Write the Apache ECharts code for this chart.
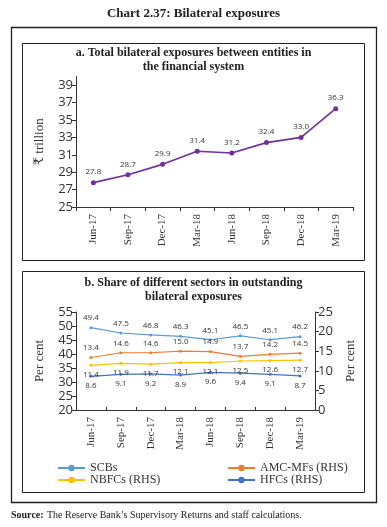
<!DOCTYPE html>
<html><head><meta charset="utf-8">
<script src="https://cdn.jsdelivr.net/npm/echarts@6/dist/echarts.min.js"></script>
<style>html,body{margin:0;padding:0;background:#fff;}#c{width:387px;height:527px;}</style>
</head><body><div id="c"></div>
<script>
var categories = ['Jun-17','Sep-17','Dec-17','Mar-18','Jun-18','Sep-18','Dec-18','Mar-19'];
var totalExposure = [27.8, 28.7, 29.9, 31.4, 31.2, 32.4, 33.0, 36.3];
var scbs = [49.4, 47.5, 46.8, 46.3, 45.1, 46.5, 45.1, 46.2];
var amcMfs = [13.4, 14.6, 14.6, 15.0, 14.9, 13.7, 14.2, 14.5];
var nbfcs = [11.4, 11.9, 11.7, 12.1, 12.1, 12.5, 12.6, 12.7];
var hfcs = [8.6, 9.1, 9.2, 8.9, 9.6, 9.4, 9.1, 8.7];

var serif = '"Liberation Serif", "DejaVu Serif", serif';
var sans = '"Open Sans", "Noto Sans", sans-serif';
var axisColor = '#333';
var chart = echarts.init(document.getElementById('c'));

function lbl(pos) {
  return {show: true, position: pos, fontSize: 8, color: '#333', fontFamily: sans, distance: 4,
    formatter: function(p){ return p.value.toFixed(1); }};
}
function titleText(y, txt, size) {
  return {type: 'text', x: 193.5, y: y, style: {text: txt, textAlign: 'center', textVerticalAlign: 'top',
    fontFamily: serif, fontWeight: 'bold', fontSize: size, fill: '#222', lineHeight: 14}};
}

chart.setOption({
  animation: false,
  backgroundColor: '#fff',
  graphic: [
    {type: 'rect', shape: {x: 11.5, y: 27.5, width: 365, height: 475}, style: {fill: 'none', stroke: '#222', lineWidth: 1.3}},
    {type: 'rect', shape: {x: 22.5, y: 43.5, width: 342, height: 217}, style: {fill: 'none', stroke: '#222', lineWidth: 1}},
    {type: 'rect', shape: {x: 22.5, y: 271.5, width: 342, height: 221}, style: {fill: 'none', stroke: '#222', lineWidth: 1}},
    titleText(7, 'Chart 2.37: Bilateral exposures', 13),
    titleText(46, 'a. Total bilateral exposures between entities in\nthe financial system', 12),
    titleText(276, 'b. Share of different sectors in outstanding\nbilateral exposures', 12),
    {type: 'text', x: 11, y: 509, style: {rich: {b: {fontWeight: 'bold', fontFamily: serif, fontSize: 10, fill: '#222'}, n: {fontFamily: serif, fontSize: 10, fill: '#222'}}, text: '{b|Source:} {n|The Reserve Bank\u2019s Supervisory Returns and staff calculations.}'}}
  ],
  legend: [
    {data: ['SCBs', 'NBFCs (RHS)'], orient: 'vertical', left: 52, top: 457, itemWidth: 27, itemHeight: 8, itemGap: 0,
      textStyle: {fontFamily: serif, fontSize: 12, color: '#333'}},
    {data: ['AMC-MFs (RHS)', 'HFCs (RHS)'], orient: 'vertical', left: 222, top: 457, itemWidth: 27, itemHeight: 8, itemGap: 0,
      textStyle: {fontFamily: serif, fontSize: 12, color: '#333'}}
  ],
  grid: [
    {left: 76, top: 76.5, width: 277, height: 130.5},
    {left: 76, top: 312, width: 239, height: 98}
  ],
  xAxis: [
    {type: 'category', gridIndex: 0, data: categories, boundaryGap: true,
      axisLine: {lineStyle: {color: axisColor}}, axisTick: {show: true, inside: false, length: 4, lineStyle: {color: axisColor}},
      axisLabel: {rotate: 90, fontFamily: serif, fontSize: 11, color: '#333', margin: 7}},
    {type: 'category', gridIndex: 1, data: categories, boundaryGap: true,
      axisLine: {lineStyle: {color: axisColor}}, axisTick: {show: true, inside: true, length: 3, lineStyle: {color: axisColor}},
      axisLabel: {rotate: 90, fontFamily: serif, fontSize: 11, color: '#333', margin: 7}}
  ],
  yAxis: [
    {type: 'value', gridIndex: 0, min: 25, max: 40, interval: 2, splitLine: {show: false},
      axisLine: {show: true, lineStyle: {color: axisColor}}, axisTick: {show: true, length: 4, lineStyle: {color: axisColor}},
      axisLabel: {fontFamily: sans, fontSize: 13, color: '#333', margin: 3, showMaxLabel: false},
      name: '\u20b9 trillion', nameLocation: 'middle', nameGap: 30, nameRotate: 90,
      nameTextStyle: {fontFamily: serif, fontSize: 13, color: '#333'}},
    {type: 'value', gridIndex: 1, min: 20, max: 55, interval: 5, splitLine: {show: false},
      axisLine: {show: true, lineStyle: {color: axisColor}}, axisTick: {show: true, length: 4, lineStyle: {color: axisColor}},
      axisLabel: {fontFamily: sans, fontSize: 13, color: '#333', margin: 3},
      name: 'Per cent', nameLocation: 'middle', nameGap: 30, nameRotate: 90,
      nameTextStyle: {fontFamily: serif, fontSize: 13, color: '#333'}},
    {type: 'value', gridIndex: 1, position: 'right', min: 0, max: 25, interval: 5, splitLine: {show: false},
      axisLine: {show: true, lineStyle: {color: axisColor}}, axisTick: {show: true, length: 4, lineStyle: {color: axisColor}},
      axisLabel: {fontFamily: sans, fontSize: 13, color: '#333', margin: 3},
      name: 'Per cent', nameLocation: 'middle', nameGap: 23, nameRotate: 90,
      nameTextStyle: {fontFamily: serif, fontSize: 13, color: '#333'}}
  ],
  series: [
    {name: 'Total', type: 'line', xAxisIndex: 0, yAxisIndex: 0, data: totalExposure,
      color: '#7030A0', lineStyle: {width: 1.6}, symbol: 'circle', symbolSize: 5, label: lbl('top')},
    {name: 'SCBs', type: 'line', xAxisIndex: 1, yAxisIndex: 1, data: scbs,
      color: '#5B9BD5', lineStyle: {width: 1.2}, symbol: 'circle', symbolSize: 3, label: lbl('top')},
    {name: 'AMC-MFs (RHS)', type: 'line', xAxisIndex: 1, yAxisIndex: 2, data: amcMfs,
      color: '#ED7D31', lineStyle: {width: 1.2}, symbol: 'circle', symbolSize: 3, label: lbl('top')},
    {name: 'NBFCs (RHS)', type: 'line', xAxisIndex: 1, yAxisIndex: 2, data: nbfcs,
      color: '#FFC000', lineStyle: {width: 1.2}, symbol: 'circle', symbolSize: 3, label: lbl('bottom')},
    {name: 'HFCs (RHS)', type: 'line', xAxisIndex: 1, yAxisIndex: 2, data: hfcs,
      color: '#4472C4', lineStyle: {width: 1.2}, symbol: 'circle', symbolSize: 3, label: lbl('bottom')}
  ]
});
</script></body></html>
